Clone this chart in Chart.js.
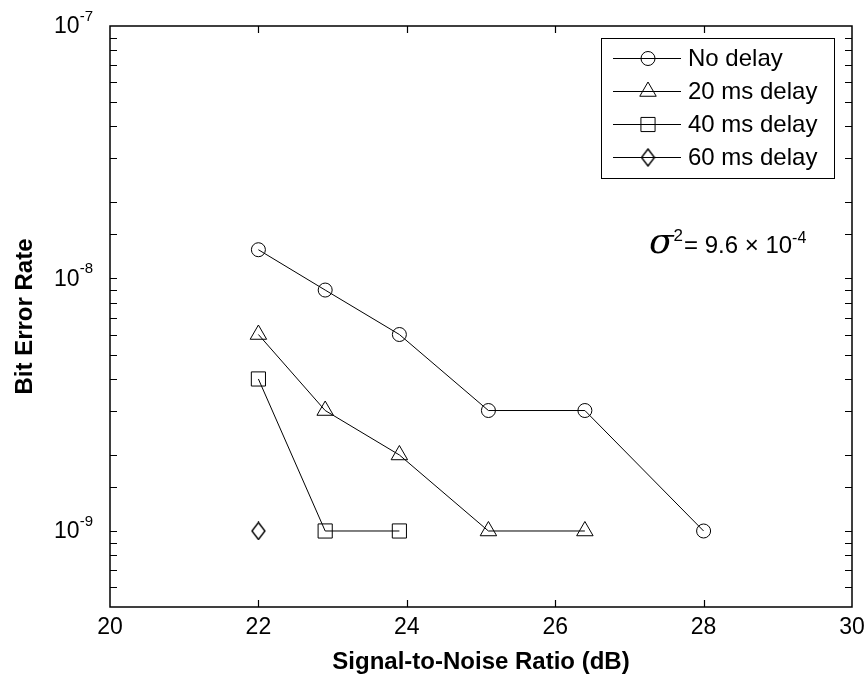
<!DOCTYPE html>
<html>
<head>
<meta charset="utf-8">
<title>BER vs SNR</title>
<script src="https://cdn.jsdelivr.net/npm/chart.js@4.4.0/dist/chart.umd.min.js"></script>
<style>
  html, body { margin: 0; padding: 0; background: #fff; }
  canvas { display: block; }
</style>
</head>
<body>
<canvas id="berChart" width="865" height="675"></canvas>
<script>
// ---- data ----
const seriesLabels = ['No delay', '20 ms delay', '40 ms delay', '60 ms delay'];

const snrNoDelay = [22, 22.9, 23.9, 25.1, 26.4, 28];
const berNoDelay = [1.3e-8, 9e-9, 6e-9, 3e-9, 3e-9, 1e-9];

const snr20ms = [22, 22.9, 23.9, 25.1, 26.4];
const ber20ms = [6e-9, 3e-9, 2e-9, 1e-9, 1e-9];

const snr40ms = [22, 22.9, 23.9];
const ber40ms = [4e-9, 1e-9, 1e-9];

const snr60ms = [22];
const ber60ms = [1e-9];

const yDecadeLabels = [1e-9, 1e-8, 1e-7];

const FONT = '"Liberation Sans", Arial, Helvetica, sans-serif';

// matlab's diamond is a bit taller than wide, chart.js rectRot isn't
function makeDiamond(w, h) {
    const c = document.createElement('canvas');
    c.width = w + 2; c.height = h + 2;
    const g = c.getContext('2d');
    g.strokeStyle = '#000';
    g.lineWidth = 1.4;
    g.beginPath();
    g.moveTo(c.width / 2, 1);
    g.lineTo(c.width - 1, c.height / 2);
    g.lineTo(c.width / 2, c.height - 1);
    g.lineTo(1, c.height / 2);
    g.closePath();
    g.stroke();
    return c;
}
const diamond = makeDiamond(13, 17);

const markers = [
    { style: 'circle', r: 7 },
    { style: 'triangle', r: 9.5 },
    { style: 'rect', r: 10 },
    { style: diamond, r: 9 }
];

function toPoints(xs, ys) { return xs.map((x, i) => ({ x: x, y: ys[i] })); }

function makeSet(i, xs, ys) {
    return {
        label: seriesLabels[i],
        data: toPoints(xs, ys),
        borderColor: '#000',
        backgroundColor: 'rgba(0,0,0,0)',
        borderWidth: 1,
        pointStyle: markers[i].style,
        pointRadius: markers[i].r,
        pointBorderWidth: 1,
        pointBorderColor: '#000',
        pointBackgroundColor: 'rgba(0,0,0,0)',
        tension: 0,
        fill: false
    };
}

// frame, inward ticks, 10^n labels, boxed legend and the sigma note
const matlabDecor = {
    id: 'matlabDecor',
    afterDatasetsDraw(chart) {
        const ctx = chart.ctx;
        const area = chart.chartArea;
        const xs = chart.scales.x, ys = chart.scales.y;
        ctx.save();
        ctx.strokeStyle = '#000';
        ctx.fillStyle = '#000';

        // axes box
        ctx.lineWidth = 1.5;
        ctx.strokeRect(area.left, area.top, area.right - area.left, area.bottom - area.top);

        // ticks pointing in, on all four sides
        ctx.lineWidth = 1.2;
        const tl = 7;
        ctx.beginPath();
        xs.ticks.forEach(t => {
            if (t.value <= xs.min || t.value >= xs.max) return;
            const px = Math.round(xs.getPixelForValue(t.value)) + 0.5;
            ctx.moveTo(px, area.bottom); ctx.lineTo(px, area.bottom - tl);
            ctx.moveTo(px, area.top); ctx.lineTo(px, area.top + tl);
        });
        ys.ticks.forEach(t => {
            if (t.value <= ys.min * 1.0001 || t.value >= ys.max * 0.9999) return;
            const py = Math.round(ys.getPixelForValue(t.value)) + 0.5;
            ctx.moveTo(area.left, py); ctx.lineTo(area.left + tl, py);
            ctx.moveTo(area.right, py); ctx.lineTo(area.right - tl, py);
        });
        ctx.stroke();

        // y labels as 10 with a raised exponent
        yDecadeLabels.forEach(v => {
            const py = ys.getPixelForValue(v);
            const exp = String(Math.round(Math.log10(v)));
            ctx.font = '15px ' + FONT;
            const supW = ctx.measureText(exp).width;
            const right = area.left - 17;
            ctx.textAlign = 'left';
            ctx.textBaseline = 'alphabetic';
            ctx.fillText(exp, right - supW, py - 5);
            ctx.font = '23px ' + FONT;
            ctx.textAlign = 'right';
            ctx.textBaseline = 'middle';
            ctx.fillText('10', right - supW, py + 1);
        });

        // legend
        const lg = { left: 601, top: 38, right: 834, bottom: 178 };
        ctx.lineWidth = 1;
        ctx.strokeRect(lg.left + 0.5, lg.top + 0.5, lg.right - lg.left, lg.bottom - lg.top);
        const rowY = [58, 91, 124, 157];
        chart.data.datasets.forEach((ds, i) => {
            const y = rowY[i] + 0.5;
            ctx.lineWidth = 1;
            ctx.beginPath();
            ctx.moveTo(613, y); ctx.lineTo(681, y);
            ctx.stroke();
            ctx.fillStyle = 'rgba(0,0,0,0)';
            Chart.helpers.drawPoint(ctx, {
                pointStyle: markers[i].style, radius: markers[i].r, rotation: 0, borderWidth: 1
            }, 648, y);
            ctx.fillStyle = '#000';
            ctx.font = '24px ' + FONT;
            ctx.textAlign = 'left';
            ctx.textBaseline = 'middle';
            ctx.fillText(ds.label, 688, y + 1);
        });

        // sigma^2 = 9.6 x 10^-4
        const base = 253;
        ctx.textBaseline = 'alphabetic';
        ctx.textAlign = 'left';
        ctx.font = 'italic 36px "DejaVu Serif", "Liberation Serif", serif';
        ctx.fillText('σ', 649, base);
        let x = 649 + ctx.measureText('σ').width;
        ctx.font = '17px ' + FONT;
        ctx.fillText('2', x, base - 12);
        x += ctx.measureText('2').width + 1;
        ctx.font = '24px ' + FONT;
        ctx.fillText('= 9.6 × 10', x, base);
        x += ctx.measureText('= 9.6 × 10').width;
        ctx.font = '16px ' + FONT;
        ctx.fillText('-4', x, base - 10);

        ctx.restore();
    }
};

const chart = new Chart(document.getElementById('berChart').getContext('2d'), {
    type: 'line',
    data: {
        datasets: [
            makeSet(0, snrNoDelay, berNoDelay),
            makeSet(1, snr20ms, ber20ms),
            makeSet(2, snr40ms, ber40ms),
            makeSet(3, snr60ms, ber60ms)
        ]
    },
    options: {
        responsive: false,
        animation: false,
        devicePixelRatio: 1,
        layout: { padding: { top: 26, right: 13, left: 0, bottom: 0 } },
        plugins: {
            legend: { display: false },
            tooltip: { enabled: false }
        },
        scales: {
            x: {
                type: 'linear',
                min: 20,
                max: 30,
                grid: { display: false, drawTicks: false },
                border: { display: false },
                ticks: {
                    stepSize: 2,
                    color: '#000',
                    padding: 7,
                    maxRotation: 0,
                    font: { size: 23, family: FONT }
                },
                title: {
                    display: true,
                    text: 'Signal-to-Noise Ratio (dB)',
                    color: '#000',
                    padding: { top: 0, bottom: 1 },
                    font: { size: 24, weight: 'bold', family: FONT, lineHeight: 1 }
                },
                afterFit(scale) {
                    scale.height = 68;
                    // keep the end labels from pushing the plot edges in
                    scale.paddingLeft = 0;
                    scale.paddingRight = 0;
                }
            },
            y: {
                type: 'logarithmic',
                min: 5e-10,
                max: 1e-7,
                grid: { display: false, drawTicks: false },
                border: { display: false },
                ticks: { display: false },
                title: {
                    display: true,
                    text: 'Bit Error Rate',
                    color: '#000',
                    padding: { top: 13, bottom: 0 },
                    font: { size: 24, weight: 'bold', family: FONT, lineHeight: 1 }
                },
                afterFit(scale) { scale.width = 110; }
            }
        }
    },
    plugins: [matlabDecor]
});
</script>
</body>
</html>
